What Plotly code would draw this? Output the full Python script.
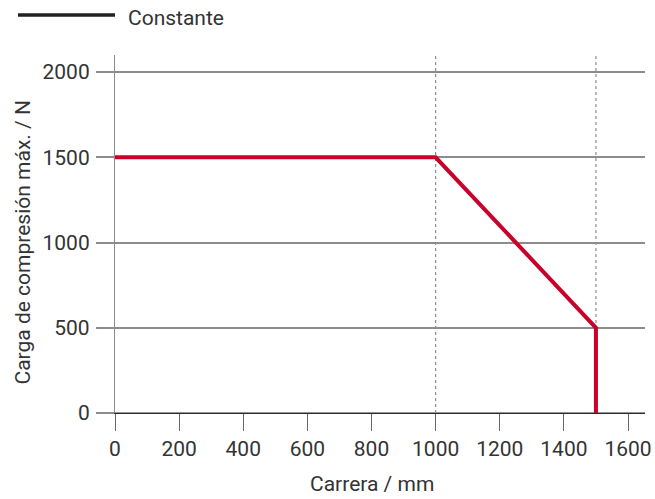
import plotly.graph_objects as go

# Data
carrera_mm = [0, 1000, 1500, 1500]
carga_N = [1500, 1500, 500, 0]
x_ticks = [0, 200, 400, 600, 800, 1000, 1200, 1400, 1600]
y_ticks = [0, 500, 1000, 1500, 2000]
dark_grid = [0, 1000, 2000]
dotted_x = [1000, 1500]
legend_name = "Constante"
x_title = "Carrera / mm"
y_title = "Carga de compresión máx. / N"

W, H = 655, 499
L, R, T, B = 115, 10, 55, 86
pw = W - L - R
ph = H - T - B

def px_x(page_x):
    return (page_x - L) / pw

def px_y(page_y):
    return 1 - (page_y - T) / ph

FS = 21

fig = go.Figure()
fig.add_trace(go.Scatter(x=carrera_mm, y=carga_N, mode="lines",
                         line=dict(color="#C8002A", width=4), showlegend=False,
                         hoverinfo="skip", cliponaxis=False))

shapes = []
ext = -18 / pw
for v in dark_grid:
    shapes.append(dict(type="line", xref="paper", yref="y", x0=ext, x1=1, y0=v, y1=v,
                       line=dict(color="#2b2b2b", width=1.2), layer="between"))
for v in dotted_x:
    shapes.append(dict(type="line", xref="x", yref="paper", x0=v, x1=v, y0=0, y1=1,
                       line=dict(color="#8c8c8c", width=1.2, dash="dot"), layer="between"))
# legend sample
shapes.append(dict(type="line", xref="paper", yref="paper",
                   x0=px_x(18), x1=px_x(115), y0=px_y(15), y1=px_y(15),
                   line=dict(color="#222222", width=3.5)))

annotations = [
    dict(text=legend_name, xref="paper", yref="paper",
         x=px_x(126), y=px_y(18), xanchor="left", yanchor="middle", showarrow=False,
         font=dict(size=FS, color="#333333")),
    dict(text=x_title, xref="x", yref="paper",
         x=(x_ticks[0] + x_ticks[-1]) / 2, y=px_y(484),
         xanchor="center", yanchor="middle", showarrow=False,
         font=dict(size=FS, color="#333333")),
    dict(text=y_title, xref="paper", yref="y",
         x=px_x(23), y=(y_ticks[0] + y_ticks[-1]) / 2, textangle=-90,
         xanchor="center", yanchor="middle", showarrow=False,
         font=dict(size=FS, color="#333333")),
]

fig.update_layout(
    width=W, height=H,
    margin=dict(l=L, r=R, t=T, b=B),
    paper_bgcolor="white", plot_bgcolor="white",
    font=dict(family="Roboto", size=FS, color="#333333"),
    showlegend=False,
    shapes=shapes,
    annotations=annotations,
    xaxis=dict(range=[0, 1653], tickvals=x_ticks, showgrid=False, zeroline=False,
               showline=True, linecolor="#2b2b2b", linewidth=1.2,
               ticks="outside", ticklen=17, tickcolor="#666666", tickwidth=1.2,
               tickfont=dict(size=FS), automargin=False,
               fixedrange=True),
    yaxis=dict(range=[0, 2100], tickvals=y_ticks, showgrid=True, gridcolor="#8c8c8c",
               gridwidth=1.8, zeroline=False,
               showline=True, linecolor="#8c8c8c", linewidth=1.2,
               ticks="outside", ticklen=18, tickcolor="#8c8c8c", tickwidth=1.5,
               tickfont=dict(size=FS), ticklabelstandoff=2, automargin=False,
               fixedrange=True),
)

fig.write_html("out.html", config={"displayModeBar": False},
               post_script="document.body.style.margin='0';document.body.style.overflow='hidden';")
